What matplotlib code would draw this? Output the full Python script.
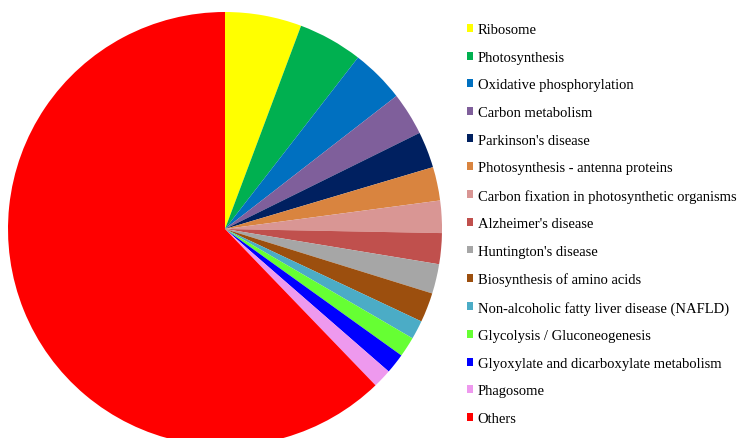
import matplotlib.pyplot as plt

# pathway categories and their share (in %)
labels = ["Ribosome", "Photosynthesis", "Oxidative phosphorylation", "Carbon metabolism",
          "Parkinson's disease", "Photosynthesis - antenna proteins",
          "Carbon fixation in photosynthetic organisms", "Alzheimer's disease",
          "Huntington's disease", "Biosynthesis of amino acids",
          "Non-alcoholic fatty liver disease (NAFLD)", "Glycolysis / Gluconeogenesis",
          "Glyoxylate and dicarboxylate metabolism", "Phagosome", "Others"]
shares = [5.7, 4.8, 4.0, 3.2, 2.7, 2.5, 2.4, 2.3, 2.2, 2.2, 1.4, 1.5, 1.5, 1.4, 62.2]
colors = ["#FFFF00", "#00B050", "#0070C0", "#7F5F9B", "#002060", "#D9843F",
          "#D99694", "#C0504D", "#A6A6A6", "#9C4F0E", "#4BACC6", "#66FF33",
          "#0000FF", "#EE99EE", "#FF0000"]

plt.rcParams['font.family'] = ['Liberation Serif', 'DejaVu Serif']

fig = plt.figure(figsize=(7.42, 4.39), dpi=100)
ax = fig.add_axes([225 / 742 - 217 / 742, (439 - 230 - 217) / 439, 434 / 742, 434 / 439])

wedges, _ = ax.pie(shares, colors=colors, startangle=90, counterclock=False,
                   wedgeprops=dict(linewidth=0))
ax.set_xlim(-1, 1)
ax.set_ylim(-1, 1)
ax.set_aspect('equal')

fig.legend(wedges, labels, loc='upper left', bbox_to_anchor=(0.621, 0.958),
           frameon=False, fontsize=10.5, handlelength=0.45, handleheight=0.45,
           handletextpad=0.3, labelspacing=1.0, borderaxespad=0)

fig.savefig("out.png", dpi=100)
